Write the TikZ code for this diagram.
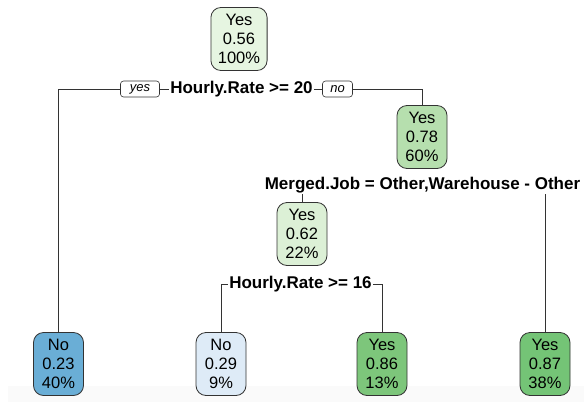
\documentclass[tikz,border=0pt]{standalone}
\usepackage{fontspec}
\setmainfont{Liberation Sans}
\begin{document}
\begin{tikzpicture}[x=1pt,y=-1pt,
  every node/.style={font=\fontsize{16.5}{19}\selectfont},
  treenode/.style={draw=black!80, line width=0.8pt, rounded corners=10pt,
    minimum width=50pt, minimum height=63pt, inner xsep=7pt, inner ysep=0pt,
    align=center},
  splitlabel/.style={fill=white, inner sep=1pt,
    font=\fontsize{17}{19}\selectfont\bfseries},
  tag/.style={draw=black!80, fill=white, line width=0.6pt, rounded corners=3pt,
    minimum height=16pt, inner xsep=5pt, inner ysep=0pt,
    font=\fontsize{13}{15}\selectfont\itshape},
  branch/.style={draw=black!80, line width=0.8pt}]
\useasboundingbox (0,0) rectangle (584,402);
\fill[black!2] (8,386) rectangle (584,402);

\definecolor{gA}{HTML}{E6F5E1}
\definecolor{gB}{HTML}{B6DFAE}
\definecolor{gC}{HTML}{DCF0D6}
\definecolor{gD}{HTML}{7DC67B}
\definecolor{gE}{HTML}{74C476}
\definecolor{bA}{HTML}{6AAED6}
\definecolor{bB}{HTML}{DEEBF7}

% branch points and turning points
\coordinate (s1l) at (58.5,89);
\coordinate (s1r) at (422,89);
\coordinate (s2l) at (302,185);
\coordinate (s2r) at (545,185);
\coordinate (s3l) at (221,284);
\coordinate (s3r) at (382,284);

% branch lines drawn first, labels cover them
\draw[branch] (s1l) -- (s1r);
\draw[branch] (s2l) -- (s2r);
\draw[branch] (s3l) -- (s3r);

% nodes
\node[treenode, fill=gA] (n1) at (239,39) {Yes\\0.56\\100\%};
\node[treenode, fill=gB] (n3) at (422,137) {Yes\\0.78\\60\%};
\node[treenode, fill=gC] (n6) at (302,234) {Yes\\0.62\\22\%};
\node[treenode, fill=bA] (n2) at (58.5,364) {No\\0.23\\40\%};
\node[treenode, fill=bB] (n12) at (221,364) {No\\0.29\\9\%};
\node[treenode, fill=gD] (n13) at (382,364) {Yes\\0.86\\13\%};
\node[treenode, fill=gE] (n7) at (545,364) {Yes\\0.87\\38\%};

% split labels
\node[splitlabel] (l1) at (241.5,89) {Hourly.Rate >= 20};
\node[tag, minimum width=39pt] (yes) at (140,89) {yes};
\node[tag, minimum width=30pt] (no) at (337.5,89) {no};
\node[splitlabel] (l2) at (422.5,185) {Merged.Job = Other,Warehouse - Other};
\node[splitlabel] (l3) at (300.5,284) {Hourly.Rate >= 16};

% vertical connectors
\draw[branch] (s1l) -- (n2.north);
\draw[branch] (s1r) -- (n3.north);
\draw[branch] (l2.south -| s2l) -- (n6.north);
\draw[branch] (l2.south -| s2r) -- (n7.north);
\draw[branch] (s3l) -- (n12.north);
\draw[branch] (s3r) -- (n13.north);
\end{tikzpicture}
\end{document}
